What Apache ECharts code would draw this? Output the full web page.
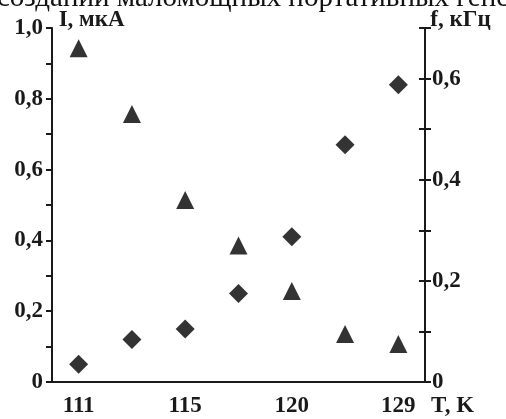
<!DOCTYPE html>
<html>
<head>
<meta charset="utf-8">
<script src="https://cdn.jsdelivr.net/npm/echarts@6/dist/echarts.min.js"></script>
<style>
  html, body { margin: 0; padding: 0; background: #fff; }
  #chart { width: 506px; height: 419px; }
</style>
</head>
<body>
<div id="chart"></div>
<script>
// temperature categories (only every other one is labelled in the picture)
var temps = ['111', '', '115', '', '120', '', '129'];
// current I, мкА (diamonds, left axis)
var current = [0.05, 0.12, 0.15, 0.25, 0.41, 0.67, 0.84];
// frequency f, кГц (triangles, right axis)
var freq = [0.66, 0.53, 0.36, 0.27, 0.18, 0.095, 0.075];

var serif = '"Liberation Serif", "DejaVu Serif", serif';
var ink = '#1a1a1a';
var labelSize = 23;

function fmt(v) {
    return v === 0 ? '0' : v.toFixed(1).replace('.', ',');
}

var dom = document.getElementById('chart');
var myChart = echarts.init(dom, null, { renderer: 'canvas' });

var option = {
    backgroundColor: '#fff',
    animation: false,
    grid: { left: 52, right: 81, top: 28, bottom: 37 },
    graphic: [{
        type: 'text',
        left: -3,
        top: -16,
        style: {
            text: 'создании маломощных портативных генераторов',
            font: '29px ' + serif,
            fill: '#111'
        }
    }],
    xAxis: [{
        type: 'category',
        data: temps,
        boundaryGap: true,
        axisLine: { lineStyle: { color: ink, width: 2 } },
        axisTick: { inside: false, length: 6, lineStyle: { color: ink, width: 2 } },
        axisLabel: {
            interval: 0, margin: 13, color: ink,
            fontFamily: serif, fontWeight: 'bold', fontSize: labelSize
        },
        name: 'T, K',
        nameLocation: 'end',
        nameGap: 6,
        nameTextStyle: {
            color: ink, fontFamily: serif, fontWeight: 'bold', fontSize: labelSize,
            align: 'left', verticalAlign: 'top', padding: [13, 0, 0, 0]
        },
        splitLine: { show: false }
    }, {
        type: 'category',
        data: temps,
        boundaryGap: true,
        position: 'bottom',
        axisLine: { show: false },
        axisTick: { inside: true, length: 6, lineStyle: { color: ink, width: 2 } },
        axisLabel: { show: false },
        splitLine: { show: false }
    }],
    yAxis: [{
        type: 'value',
        min: 0, max: 1, interval: 0.1,
        position: 'left',
        axisLine: { show: true, lineStyle: { color: ink, width: 2 } },
        axisTick: { show: true, length: 6, lineStyle: { color: ink, width: 2 } },
        axisLabel: {
            margin: 9, color: ink, fontFamily: serif, fontWeight: 'bold', fontSize: labelSize,
            formatter: function (v) {
                return Math.round(v * 10) % 2 === 0 ? fmt(v) : '';
            }
        },
        splitLine: { show: false }
    }, {
        type: 'value',
        min: 0, max: 0.7, interval: 0.1,
        position: 'right',
        axisLine: { show: true, lineStyle: { color: ink, width: 2 } },
        axisTick: { show: true, length: 6, lineStyle: { color: ink, width: 2 } },
        axisLabel: {
            margin: 7, color: ink, fontFamily: serif, fontWeight: 'bold', fontSize: labelSize,
            formatter: function (v) {
                var k = Math.round(v * 10);
                return (k % 2 === 0) ? fmt(v) : '';
            }
        },
        splitLine: { show: false }
    }, {
        type: 'value',
        min: 0, max: 0.7, interval: 0.1,
        position: 'right',
        axisLine: { show: false },
        axisTick: { show: true, inside: true, length: 6, lineStyle: { color: ink, width: 2 } },
        axisLabel: { show: false },
        splitLine: { show: false }
    }],
    series: [{
        name: 'I',
        type: 'scatter',
        xAxisIndex: 0,
        yAxisIndex: 0,
        symbol: 'diamond',
        symbolSize: 19,
        itemStyle: { color: '#000' },
        data: current
    }, {
        name: 'f',
        type: 'scatter',
        xAxisIndex: 0,
        yAxisIndex: 1,
        symbol: 'triangle',
        symbolSize: 18,
        itemStyle: { color: '#000' },
        data: freq
    }]
};

myChart.setOption(option);

// axis names placed next to the top of each y axis
var topY = myChart.convertToPixel({ yAxisIndex: 0 }, 1);
var leftX = myChart.convertToPixel({ xAxisIndex: 0 }, 0) - 27;
var rightX = myChart.convertToPixel({ xAxisIndex: 0 }, 6) + 27;
myChart.setOption({
    graphic: [{
        type: 'text',
        left: -3,
        top: -16,
        style: {
            text: 'создании маломощных портативных генераторов',
            font: '29px ' + serif,
            fill: '#111'
        }
    }, {
        type: 'text',
        x: leftX + 7,
        y: topY - 8,
        style: {
            text: 'I, мкА', fill: ink,
            font: 'bold ' + labelSize + 'px ' + serif,
            align: 'left', verticalAlign: 'middle'
        }
    }, {
        type: 'text',
        x: rightX + 5,
        y: topY - 8,
        style: {
            text: 'f, кГц', fill: ink,
            font: 'bold ' + labelSize + 'px ' + serif,
            align: 'left', verticalAlign: 'middle'
        }
    }]
});

window.addEventListener('resize', myChart.resize);
</script>
</body>
</html>
